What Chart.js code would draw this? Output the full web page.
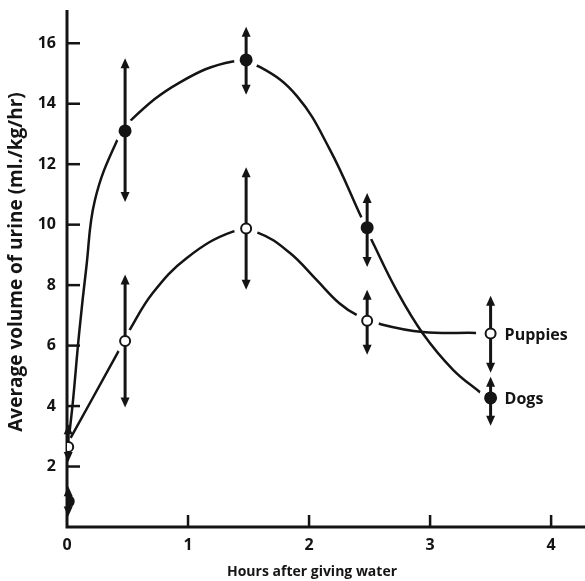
<!DOCTYPE html>
<html>
<head>
<meta charset="utf-8">
<script src="https://cdn.jsdelivr.net/npm/chart.js@4.4.0/dist/chart.umd.min.js"></script>
<style>
  html, body { margin: 0; padding: 0; background: #fff; }
  canvas { display: block; }
</style>
</head>
<body>
<canvas id="c" width="585" height="581"></canvas>
<script>
// ---- Data ----
const xTickValues = [0, 1, 2, 3, 4];
const yTickValues = [2, 4, 6, 8, 10, 12, 14, 16];

// Measured points (hours, ml/kg/hr) with error-bar ends
const dogsX    = [0.01, 0.48, 1.48, 2.48, 3.50];
const dogsY    = [0.85, 13.1, 15.45, 9.9, 4.27];
const dogsLow  = [0.35, 10.75, 14.3, 8.6, 3.35];
const dogsHigh = [1.35, 15.5, 16.55, 11.05, 4.97];

const pupsX    = [0.01, 0.48, 1.48, 2.48, 3.50];
const pupsY    = [2.65, 6.15, 9.87, 6.82, 6.40];
const pupsLow  = [2.15, 3.95, 7.85, 5.70, 5.10];
const pupsHigh = [3.40, 8.35, 11.9, 7.85, 7.65];

// Hand-drawn fitted curves
const dogsCurveX = [0.02, 0.05, 0.10, 0.16, 0.23, 0.41, 0.54, 0.93, 1.37, 1.60, 1.90, 2.17, 2.43, 2.54, 2.72, 2.94, 3.19, 3.43];
const dogsCurveY = [3.1, 4.2, 6.4, 8.6, 10.8, 12.75, 13.5, 14.7, 15.4, 15.2, 14.25, 12.5, 10.26, 9.3, 7.85, 6.4, 5.2, 4.4];
const pupsCurveX = [0.03, 0.41, 0.53, 0.71, 0.99, 1.37, 1.58, 1.84, 2.06, 2.25, 2.40, 2.60, 2.94, 3.38];
const pupsCurveY = [2.95, 5.7, 6.6, 7.75, 8.9, 9.77, 9.73, 9.07, 8.18, 7.4, 7.0, 6.7, 6.45, 6.42];

const seriesNames = ['Dogs', 'Puppies'];
const xTitle = 'Hours after giving water';
const yTitle = 'Average volume of urine (ml./kg/hr)';

// ---- Helpers ----
const toPts = (xs, ys) => xs.map((v, i) => ({ x: v, y: ys[i] }));
const INK = '#141414';
const FONT = '"Open Sans", "DejaVu Sans", sans-serif';

const haloPts = toPts(dogsX.slice(1), dogsY.slice(1)).concat(toPts(pupsX.slice(1), pupsY.slice(1)));

const zeroPad = s => { s.paddingTop = 0; s.paddingBottom = 0; s.paddingLeft = 0; s.paddingRight = 0; };

const customPlugin = {
  id: 'custom',
  beforeDatasetsDraw(chart) {
    const { ctx, chartArea: a, scales: { x, y } } = chart;
    const x0 = x.getPixelForValue(0), y0 = y.getPixelForValue(0);
    ctx.save();
    ctx.strokeStyle = INK;
    ctx.lineWidth = 3;
    ctx.lineCap = 'butt';
    ctx.beginPath();
    ctx.moveTo(x0, a.top);
    ctx.lineTo(x0, y0);
    ctx.lineTo(a.right, y0);
    ctx.stroke();
    ctx.lineWidth = 2.5;
    yTickValues.forEach(v => {
      const py = y.getPixelForValue(v);
      ctx.beginPath(); ctx.moveTo(x0, py); ctx.lineTo(x0 + 13, py); ctx.stroke();
    });
    xTickValues.filter(v => v > 0).forEach(v => {
      const px = x.getPixelForValue(v);
      ctx.beginPath(); ctx.moveTo(px, y0); ctx.lineTo(px, y0 - 12); ctx.stroke();
    });
    ctx.restore();
  },
  afterDatasetDraw(chart, args) {
    if (chart.data.datasets[args.index].label !== 'halo') return;
    const { ctx, scales: { x, y } } = chart;
    const drawBars = (xs, lows, highs) => {
      xs.forEach((xv, i) => {
        const px = x.getPixelForValue(xv);
        const pl = y.getPixelForValue(lows[i]);
        const ph = y.getPixelForValue(highs[i]);
        const ah = 10, aw = 4.5;
        ctx.strokeStyle = INK; ctx.fillStyle = INK; ctx.lineWidth = 3;
        ctx.beginPath(); ctx.moveTo(px, ph + ah - 1); ctx.lineTo(px, pl - ah + 1); ctx.stroke();
        ctx.beginPath(); ctx.moveTo(px, ph); ctx.lineTo(px - aw, ph + ah); ctx.lineTo(px + aw, ph + ah); ctx.closePath(); ctx.fill();
        ctx.beginPath(); ctx.moveTo(px, pl); ctx.lineTo(px - aw, pl - ah); ctx.lineTo(px + aw, pl - ah); ctx.closePath(); ctx.fill();
      });
    };
    ctx.save();
    drawBars(dogsX, dogsLow, dogsHigh);
    drawBars(pupsX, pupsLow, pupsHigh);
    ctx.restore();
  },
  afterDraw(chart) {
    const { ctx, scales: { x, y } } = chart;
    ctx.save();
    ctx.fillStyle = INK;
    ctx.textAlign = 'center';
    ctx.textBaseline = 'middle';
    ctx.font = 'bold 14px ' + FONT;
    ctx.fillText(xTitle, 312, 572);
    ctx.font = 'bold 19px ' + FONT;
    ctx.translate(17, 262);
    ctx.rotate(-Math.PI / 2);
    ctx.fillText(yTitle, 0, 0);
    ctx.restore();
    // series labels next to last points
    ctx.save();
    ctx.fillStyle = INK;
    ctx.font = 'bold 16px ' + FONT;
    ctx.textAlign = 'left';
    ctx.textBaseline = 'middle';
    const li = pupsX.length - 1;
    ctx.fillText(seriesNames[1], x.getPixelForValue(pupsX[li]) + 14, y.getPixelForValue(pupsY[li]) + 2);
    ctx.fillText(seriesNames[0], x.getPixelForValue(dogsX[li]) + 14, y.getPixelForValue(dogsY[li]) + 2);
    ctx.restore();
  }
};

new Chart(document.getElementById('c'), {
  type: 'scatter',
  data: {
    datasets: [
      { label: seriesNames[0], data: toPts(dogsX, dogsY), pointRadius: 6.5, pointBackgroundColor: INK, pointBorderColor: INK, pointBorderWidth: 0, order: 0 },
      { label: seriesNames[1], data: toPts(pupsX, pupsY), pointRadius: 5, pointBackgroundColor: '#fff', pointBorderColor: INK, pointBorderWidth: 2, order: 0 },
      { label: 'halo', data: haloPts, pointRadius: 12, pointBackgroundColor: '#fff', pointBorderWidth: 0, order: 1 },
      { label: 'dogsCurve', data: toPts(dogsCurveX, dogsCurveY), showLine: true, pointRadius: 0, borderColor: INK, borderWidth: 2.5, tension: 0.4, fill: false, order: 2 },
      { label: 'pupsCurve', data: toPts(pupsCurveX, pupsCurveY), showLine: true, pointRadius: 0, borderColor: INK, borderWidth: 2.5, tension: 0.4, fill: false, order: 2 }
    ]
  },
  options: {
    responsive: false,
    animation: false,
    devicePixelRatio: 1,
    layout: { autoPadding: false, padding: { top: 10, right: 0, left: 0, bottom: 0 } },
    plugins: { legend: { display: false }, tooltip: { enabled: false } },
    scales: {
      x: {
        type: 'linear', min: 0, max: 4.28,
        grid: { display: false, drawTicks: false },
        border: { display: false },
        ticks: { stepSize: 1, includeBounds: false, padding: 9, autoSkip: false, color: INK, font: { family: FONT, weight: 'bold', size: 16 },
                 callback: v => (Number.isInteger(v) ? String(v) : '') },
        afterFit: s => { s.height = 54; zeroPad(s); }
      },
      y: {
        type: 'linear', min: 0, max: 17.1,
        grid: { display: false, drawTicks: false },
        border: { display: false },
        ticks: { stepSize: 2, includeBounds: false, padding: 11, autoSkip: false, color: INK, font: { family: FONT, weight: 'bold', size: 16 },
                 callback: v => (v > 0 && Number.isInteger(v) ? String(v) : '') },
        afterFit: s => { s.width = 67; zeroPad(s); }
      }
    }
  },
  plugins: [customPlugin]
});
</script>
</body>
</html>
